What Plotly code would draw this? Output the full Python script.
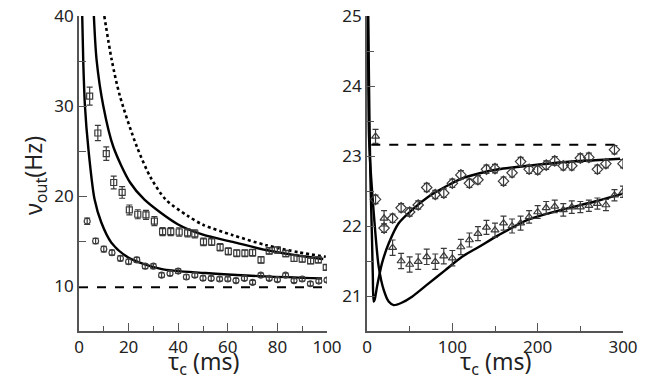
import plotly.graph_objects as go

# ---------------- Left panel data ----------------
sq_tau = [4.3, 7.6, 11.0, 14.0, 17.4, 20.3, 23.7, 27.0, 30.4, 33.7, 37.0, 40.4, 43.8, 46.7, 50.2,
          53.5, 56.9, 60.2, 63.6, 66.9, 70.0, 73.4, 76.7, 80.0, 83.4, 86.7, 90.0, 93.4, 96.5, 99.7]
sq_nu = [31.1, 27.0, 24.7, 21.5, 20.4, 18.45, 17.97, 17.9, 17.2, 16.05, 16.05, 16.0, 15.9, 15.8, 14.9,
         14.9, 14.3, 13.85, 13.65, 13.65, 13.7, 12.9, 13.9, 14.0, 13.6, 13.07, 13.0, 12.8, 12.9, 12.07]
sq_err = [1.0, 0.85, 0.75, 0.7, 0.65, 0.55, 0.5, 0.5, 0.5, 0.45, 0.45, 0.45, 0.45, 0.45, 0.42,
          0.4, 0.4, 0.4, 0.38, 0.38, 0.38, 0.36, 0.36, 0.35, 0.35, 0.35, 0.35, 0.33, 0.33, 0.3]

ci_tau = [3.3, 6.7, 10.0, 13.3, 16.7, 20.0, 23.3, 26.7, 30.0, 33.3, 36.7, 40.0, 43.3, 46.7, 50.0,
          53.3, 56.7, 60.0, 63.3, 66.7, 70.0, 73.3, 76.7, 80.0, 83.3, 86.7, 90.0, 93.3, 96.7, 100.0]
ci_nu = [17.2, 15.0, 14.1, 13.7, 13.07, 12.7, 12.9, 12.2, 12.2, 11.2, 11.4, 11.66, 11.0, 11.2, 10.87,
         10.85, 10.78, 10.78, 10.6, 10.85, 10.4, 11.2, 10.85, 10.7, 11.2, 10.6, 10.78, 10.25, 10.55, 10.66]
ci_err = [0.35, 0.3, 0.3, 0.28, 0.28, 0.27, 0.27, 0.26, 0.26, 0.25, 0.25, 0.25, 0.25, 0.25, 0.24,
          0.24, 0.24, 0.24, 0.24, 0.24, 0.23, 0.23, 0.23, 0.23, 0.23, 0.23, 0.23, 0.23, 0.23, 0.23]

# theory curves
low_tau = [1.3, 1.7, 2.4, 3.8, 6.3, 9.0, 13.0, 19.7, 33.0, 51.0, 75.0, 98.0]
low_nu = [40.0, 35.1, 30.0, 25.2, 19.6, 17.05, 14.84, 13.2, 11.9, 11.44, 11.07, 10.85]
mid_tau = [6.0, 7.1, 9.8, 13.8, 20.6, 26.4, 39.8, 50.0, 62.0, 75.4, 88.8, 98.5]
mid_nu = [40.0, 35.1, 30.0, 25.5, 21.5, 19.6, 16.87, 15.7, 14.9, 14.0, 13.36, 13.0]
dot_tau = [10.2, 13.2, 16.5, 23.3, 29.0, 35.0, 43.8, 50.0, 62.0, 75.4, 88.8, 99.5]
dot_nu = [40.0, 35.1, 31.1, 25.5, 22.0, 19.6, 17.8, 16.8, 15.65, 14.54, 13.73, 13.25]
left_base_tau = [0, 100]
left_base_nu = [9.85, 9.85]

# ---------------- Right panel data ----------------
r_tau = [10, 20, 30, 40, 50, 60, 70, 80, 90, 100, 110, 120, 130, 140, 150,
         160, 170, 180, 190, 200, 210, 220, 230, 240, 250, 260, 270, 280, 290, 300]
dia_nu = [22.38, 21.97, 22.11, 22.26, 22.2, 22.3, 22.55, 22.45, 22.47, 22.61, 22.73, 22.61, 22.66, 22.81, 22.82,
          22.64, 22.76, 22.92, 22.81, 22.8, 22.87, 22.93, 22.86, 22.86, 22.97, 22.98, 22.81, 22.89, 23.09, 22.89]
dia_err = [0.06] * 30
tri_nu = [23.28, 22.11, 21.69, 21.5, 21.45, 21.49, 21.56, 21.49, 21.57, 21.54, 21.7, 21.8, 21.89, 21.98, 21.94,
          22.04, 22.0, 22.04, 22.13, 22.2, 22.26, 22.28, 22.23, 22.27, 22.27, 22.29, 22.32, 22.3, 22.44, 22.49]
tri_err = [0.1, 0.11, 0.11, 0.11, 0.11, 0.11, 0.11, 0.11, 0.11, 0.11, 0.11, 0.1, 0.1, 0.1, 0.1,
           0.1, 0.1, 0.1, 0.09, 0.09, 0.09, 0.09, 0.09, 0.09, 0.08, 0.08, 0.08, 0.08, 0.08, 0.08]

a_tau = [1.3, 2.0, 2.8, 3.9, 5.0, 5.9, 6.8, 7.8, 9.0, 10.3, 11.7, 14.5, 17.6, 25.4, 37.1, 52.8,
         72.3, 91.8, 111.4, 130.9, 154.3, 189, 228, 267, 296.6]
a_nu = [25.1, 24.4, 23.6, 22.75, 22.2, 21.8, 21.3, 20.92, 20.95, 21.03, 21.13, 21.3, 21.47, 21.75, 22.04, 22.23,
        22.42, 22.56, 22.68, 22.75, 22.81, 22.86, 22.91, 22.94, 22.96]
b_tau = [1.0, 1.6, 2.3, 3.5, 5.9, 9.8, 13.7, 19.5, 25.4, 31.3, 40, 52.8, 72.3, 91.8, 111.4, 130.9,
         154.3, 189, 228, 267, 298.6]
b_nu = [25.1, 24.0, 23.3, 22.95, 22.51, 21.9, 21.42, 21.09, 20.92, 20.87, 20.9, 20.99, 21.18, 21.37, 21.56, 21.7,
        21.87, 22.09, 22.23, 22.35, 22.46]
right_base_tau = [5, 300]
right_base_nu = [23.16, 23.16]

# ---------------- Figure ----------------
INK = "#222222"
MK = "#3a3a3a"
fig = go.Figure()


def curve(x, y, xa, ya, dash="solid", w=2.4):
    fig.add_trace(go.Scatter(x=x, y=y, xaxis=xa, yaxis=ya, mode="lines",
                             line=dict(color="black", width=w, dash=dash, shape="spline", smoothing=0.8),
                             hoverinfo="skip"))


def pts(x, y, e, sym, size, xa, ya):
    fig.add_trace(go.Scatter(x=x, y=y, xaxis=xa, yaxis=ya, mode="markers",
                             marker=dict(symbol=sym, size=size, color=MK, line=dict(width=1.2, color=MK)),
                             error_y=dict(type="data", array=e, color=MK, thickness=1.2, width=3)))


# left
fig.add_trace(go.Scatter(x=left_base_tau, y=left_base_nu, xaxis="x", yaxis="y", mode="lines",
                         line=dict(color="black", width=2, dash="dash")))
curve(low_tau, low_nu, "x", "y")
curve(mid_tau, mid_nu, "x", "y")
curve(dot_tau, dot_nu, "x", "y", dash="dot", w=2.6)
pts(sq_tau, sq_nu, sq_err, "square-open", 6, "x", "y")
pts(ci_tau, ci_nu, ci_err, "circle-open", 6, "x", "y")

# right
fig.add_trace(go.Scatter(x=right_base_tau, y=right_base_nu, xaxis="x2", yaxis="y2", mode="lines",
                         line=dict(color="black", width=2, dash="dash")))
curve(a_tau, a_nu, "x2", "y2")
curve(b_tau, b_nu, "x2", "y2")
pts(r_tau, dia_nu, dia_err, "diamond-open", 8, "x2", "y2")
pts(r_tau, tri_nu, tri_err, "triangle-up-open", 7, "x2", "y2")

W, H = 654, 382
ML, MR, MT, MB = 79, W - 623, 16, H - 331
PW = W - ML - MR
PH = H - MT - MB

axis_common = dict(showline=True, linecolor="#555555", linewidth=1.6, showgrid=False, zeroline=False,
                   ticks="inside", tickcolor="#555555", tickwidth=1.2, automargin=False,
                   tickfont=dict(family="Noto Sans", size=17, color=INK), fixedrange=True)

fig.update_layout(
    width=W, height=H, margin=dict(l=ML, r=MR, t=MT, b=MB, autoexpand=False),
    paper_bgcolor="white", plot_bgcolor="white", showlegend=False,
    font=dict(family="Noto Sans", color=INK),
    xaxis=dict(domain=[0, (327 - ML) / PW], range=[0, 100], anchor="y",
               tickvals=[0, 20, 40, 60, 80, 100], ticklen=8,
               minor=dict(tickvals=[10, 30, 50, 70, 90], ticks="inside", ticklen=5, tickcolor="#555555"),
               **axis_common),
    yaxis=dict(domain=[0, 1], range=[5, 40], anchor="x",
               tickvals=[10, 20, 30, 40], ticklen=8,
               minor=dict(tickvals=[15, 25, 35], ticks="inside", ticklen=7, tickcolor="#555555"),
               **axis_common),
    xaxis2=dict(domain=[(367 - ML) / PW, 1], range=[0, 300], anchor="y2",
                tickvals=[0, 100, 200, 300], ticklen=8,
                minor=dict(tickvals=[50, 150, 250], ticks="inside", ticklen=5, tickcolor="#555555"),
                **axis_common),
    yaxis2=dict(domain=[0, 1], range=[20.5, 25], anchor="x2",
                tickvals=[21, 22, 23, 24, 25], ticklen=8,
                minor=dict(tickvals=[21.5, 22.5, 23.5, 24.5], ticks="inside", ticklen=7, tickcolor="#555555"),
                **axis_common),
)

title_font = dict(family="Noto Sans", size=23, color=INK)
fig.add_annotation(text="τ<sub>c</sub> (ms)", xref="paper", yref="paper", x=(203 - ML) / PW, y=-12 / PH,
                   xanchor="center", yanchor="top", showarrow=False, font=title_font)
fig.add_annotation(text="τ<sub>c</sub> (ms)", xref="paper", yref="paper", x=(495 - ML) / PW, y=-12 / PH,
                   xanchor="center", yanchor="top", showarrow=False, font=title_font)
fig.add_annotation(text="ν<sub>out</sub>(Hz)", xref="paper", yref="paper", x=(34 - ML) / PW,
                   y=(331 - 176) / PH,
                   xanchor="center", yanchor="middle", textangle=-90, showarrow=False, font=title_font)

fig.write_html("out.html", config={"displayModeBar": False},
               post_script="document.body.style.margin='0';document.body.style.overflow='hidden';")
